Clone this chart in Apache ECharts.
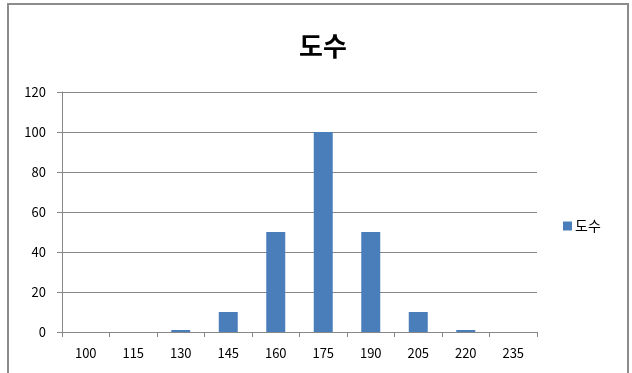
<!DOCTYPE html>
<html>
<head>
<meta charset="utf-8">
<script src="https://cdn.jsdelivr.net/npm/echarts@6/dist/echarts.min.js"></script>
<style>
  html, body { margin: 0; padding: 0; background: #fff; }
  #chart { width: 632px; height: 373px; }
</style>
</head>
<body>
<div id="chart"></div>
<script>
// Frequency table: class marks and their counts
const categories = ['100', '115', '130', '145', '160', '175', '190', '205', '220', '235'];
const counts = [0, 0, 1, 10, 50, 100, 50, 10, 1, 0];
const seriesName = '도수';

const font = '"Noto Sans CJK KR", "Noto Sans", sans-serif';
const chart = echarts.init(document.getElementById('chart'));

chart.setOption({
  animation: false,
  backgroundColor: '#fff',
  graphic: [{
    type: 'rect',
    shape: { x: 8, y: 4, width: 620, height: 420 },
    style: { fill: 'none', stroke: '#8c8c8c', lineWidth: 2 },
    silent: true
  }],
  title: {
    text: seriesName,
    left: 318,
    textAlign: 'center',
    top: 28,
    textStyle: { fontFamily: font, fontSize: 26, fontWeight: 'bold', color: '#000' }
  },
  legend: {
    data: [seriesName],
    orient: 'vertical',
    left: 558,
    top: 214,
    itemWidth: 9,
    itemHeight: 9,
    itemGap: 4,
    icon: 'rect',
    textStyle: { fontFamily: font, fontSize: 14, color: '#000', padding: [0, 0, 0, -2] }
  },
  grid: { left: 62, right: 95, top: 92, bottom: 41 },
  xAxis: {
    type: 'category',
    data: categories,
    axisLine: { lineStyle: { color: '#868686', width: 1 } },
    axisTick: { show: true, length: 5, lineStyle: { color: '#868686' } },
    axisLabel: { fontFamily: font, fontSize: 13, color: '#000', margin: 15 }
  },
  yAxis: {
    type: 'value',
    min: 0,
    max: 120,
    interval: 20,
    axisLine: { show: true, lineStyle: { color: '#868686', width: 1 } },
    axisTick: { show: true, length: 5, lineStyle: { color: '#868686' } },
    axisLabel: { fontFamily: font, fontSize: 13, color: '#000', margin: 16 },
    splitLine: { lineStyle: { color: '#868686', width: 1 } }
  },
  series: [{
    name: seriesName,
    type: 'bar',
    data: counts,
    barCategoryGap: '60%',
    itemStyle: { color: '#4a7ebb' }
  }]
});
</script>
</body>
</html>
